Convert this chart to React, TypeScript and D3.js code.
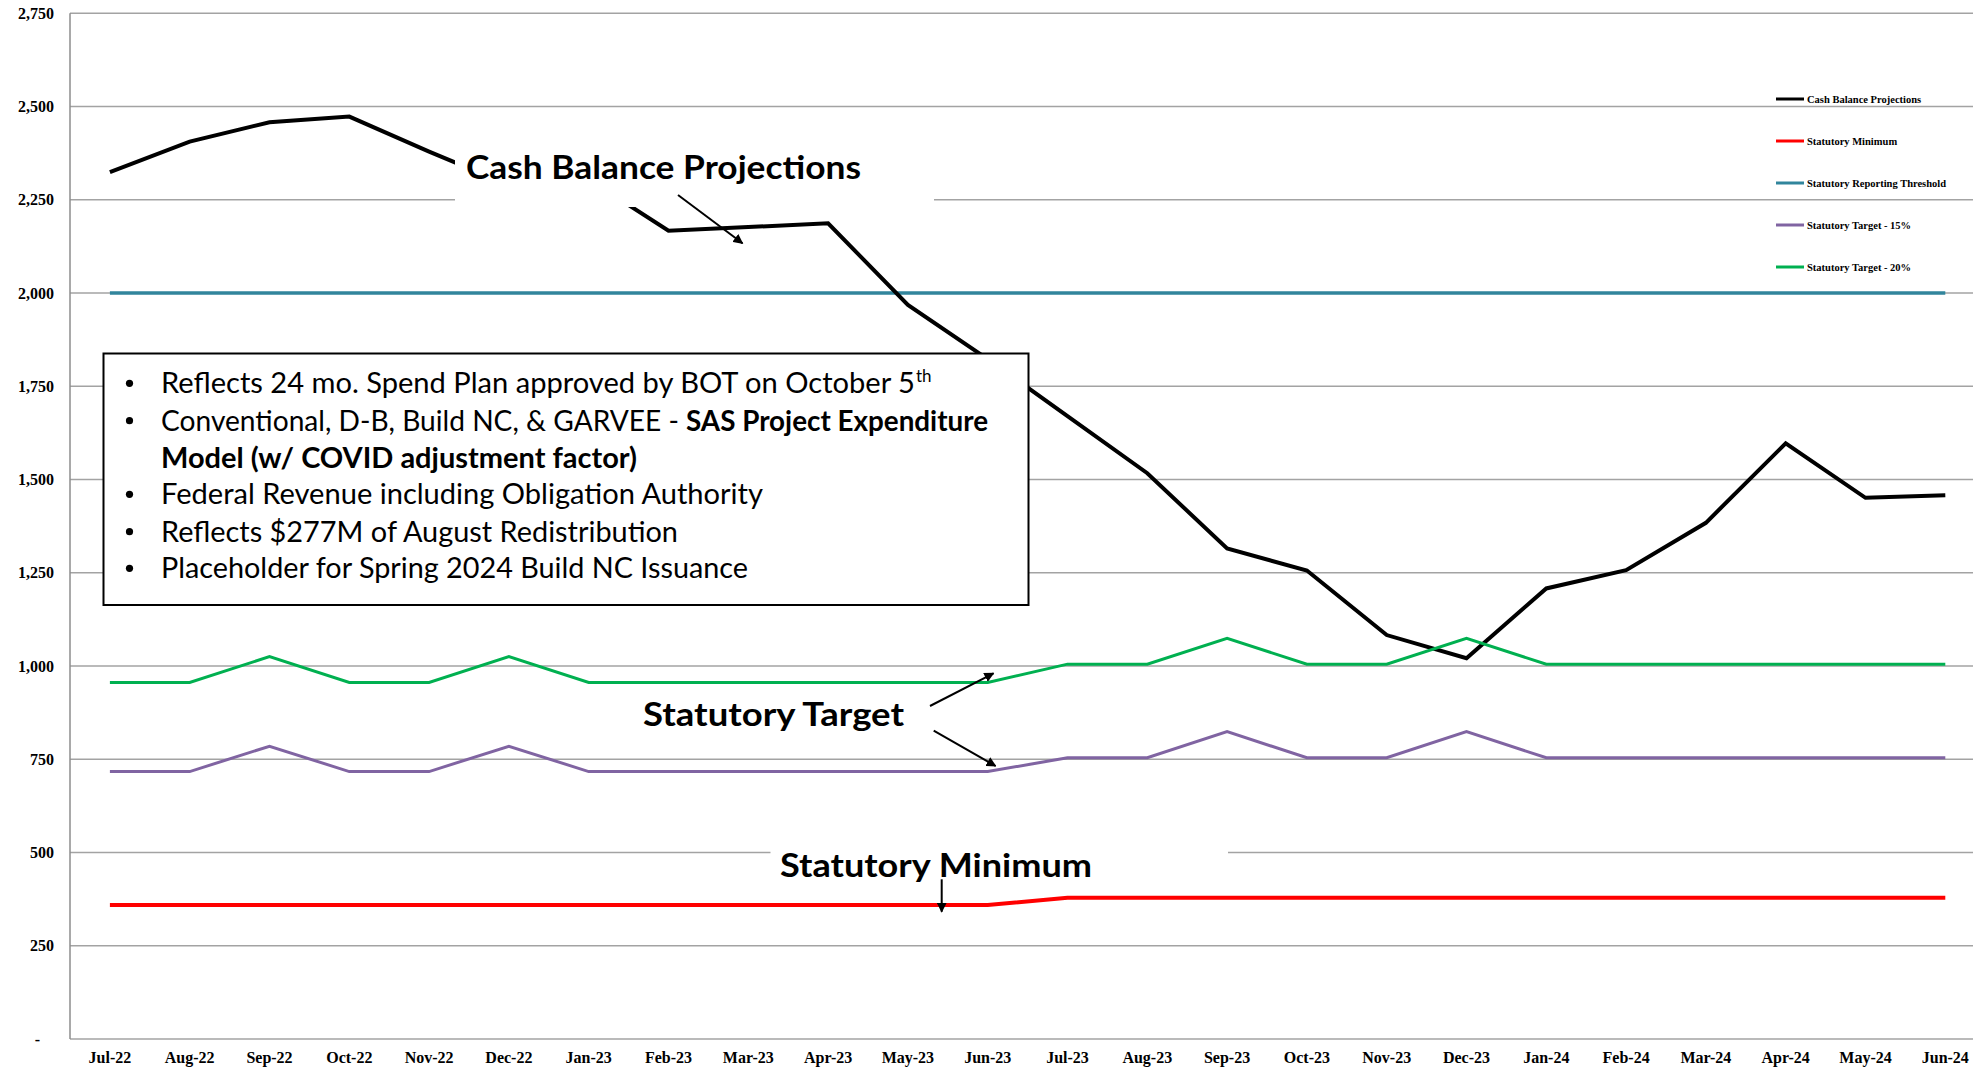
import React from "react";
import * as d3 from "d3";

const months = [
  "Jul-22", "Aug-22", "Sep-22", "Oct-22", "Nov-22", "Dec-22", "Jan-23", "Feb-23",
  "Mar-23", "Apr-23", "May-23", "Jun-23", "Jul-23", "Aug-23", "Sep-23", "Oct-23",
  "Nov-23", "Dec-23", "Jan-24", "Feb-24", "Mar-24", "Apr-24", "May-24", "Jun-24",
];
const cashBalance = [
  2324, 2406, 2458, 2473, 2379, 2290, 2305, 2167, 2177, 2187, 1968, 1823,
  1670, 1517, 1315, 1256, 1083, 1021, 1208, 1257, 1384, 1597, 1451, 1458,
];
const statutoryMinimum = [
  359, 359, 359, 359, 359, 359, 359, 359, 359, 359, 359, 359,
  379, 379, 379, 379, 379, 379, 379, 379, 379, 379, 379, 379,
];
const reportingThreshold = [
  2000, 2000, 2000, 2000, 2000, 2000, 2000, 2000, 2000, 2000, 2000, 2000,
  2000, 2000, 2000, 2000, 2000, 2000, 2000, 2000, 2000, 2000, 2000, 2000,
];
const target15 = [
  717, 717, 785, 717, 717, 785, 717, 717, 717, 717, 717, 717,
  754, 754, 824, 754, 754, 824, 754, 754, 754, 754, 754, 754,
];
const target20 = [
  956, 956, 1025, 956, 956, 1025, 956, 956, 956, 956, 956, 956,
  1005, 1005, 1074, 1005, 1005, 1074, 1005, 1005, 1005, 1005, 1005, 1005,
];
const yTicks = [0, 250, 500, 750, 1000, 1250, 1500, 1750, 2000, 2250, 2500, 2750];

const seriesNames = [
  "Cash Balance Projections",
  "Statutory Minimum",
  "Statutory Reporting Threshold",
  "Statutory Target - 15%",
  "Statutory Target - 20%",
];
const seriesColors = ["#000000", "#FF0000", "#31859C", "#8064A2", "#00B050"];

const bulletLines = [
  "Reflects 24 mo. Spend Plan approved by BOT on October 5",
  "Conventional, D-B, Build NC, & GARVEE - ",
  "SAS Project Expenditure",
  "Model (w/ COVID adjustment factor)",
  "Federal Revenue including Obligation Authority",
  "Reflects $277M of August Redistribution",
  "Placeholder for Spring 2024 Build NC Issuance",
];

const W = 1973;
const H = 1067;

export default function App() {
  const x = d3.scalePoint<string>().domain(months).range([109.9, 1945.3]);
  const y = d3.scaleLinear().domain([0, 2750]).range([1039, 13.3]);
  const fmt = d3.format(",");
  const line = d3
    .line<number>()
    .x((_, i) => x(months[i]) as number)
    .y((d) => y(d));

  const serif = "'Liberation Serif', 'Times New Roman', serif";
  const sans = "Lato, 'Open Sans', sans-serif";
  const gridColor = "#a3a3a3";

  const series = [
    { data: reportingThreshold, color: seriesColors[2], w: 3.5 },
    { data: cashBalance, color: seriesColors[0], w: 4 },
    { data: statutoryMinimum, color: seriesColors[1], w: 4 },
    { data: target15, color: seriesColors[3], w: 3 },
    { data: target20, color: seriesColors[4], w: 3 },
  ];

  const legendY = [99, 141, 183, 225, 267];
  const bulletBase = [393.3, 430.7, 467.7, 504.3, 541.7, 578.3];

  return (
    <svg
      width={W}
      height={H}
      style={{ position: "absolute", left: 0, top: 0, display: "block", background: "#fff" }}
    >
      <defs>
        <marker
          id="arrow"
          viewBox="0 0 10 10"
          refX="9"
          refY="5"
          markerWidth="5"
          markerHeight="5"
          orient="auto-start-reverse"
          markerUnits="strokeWidth"
        >
          <path d="M0,0 L10,5 L0,10 z" fill="#000" />
        </marker>
      </defs>
      <rect x={0} y={0} width={W} height={H} fill="#fff" />

      {/* gridlines */}
      {yTicks.map((t) => (
        <line
          key={"g" + t}
          x1={70}
          x2={W}
          y1={y(t)}
          y2={y(t)}
          stroke={gridColor}
          strokeWidth={1.5}
        />
      ))}
      <line x1={70} x2={70} y1={y(2750)} y2={y(0)} stroke="#8c8c8c" strokeWidth={1.5} />

      {/* y tick labels */}
      {yTicks.map((t) => (
        <text
          key={"yt" + t}
          x={t === 0 ? 40 : 54}
          y={y(t) + 5.5}
          textAnchor="end"
          fontFamily={serif}
          fontWeight="bold"
          fontSize={16}
          fill="#000"
        >
          {t === 0 ? "-" : fmt(t)}
        </text>
      ))}

      {/* x tick labels */}
      {months.map((m) => (
        <text
          key={"xt" + m}
          x={x(m) as number}
          y={1063}
          textAnchor="middle"
          fontFamily={serif}
          fontWeight="bold"
          fontSize={16}
          fill="#000"
        >
          {m}
        </text>
      ))}

      {/* series */}
      {series.map((s, i) => (
        <path
          key={"s" + i}
          d={line(s.data) || ""}
          fill="none"
          stroke={s.color}
          strokeWidth={s.w}
          strokeLinejoin="miter"
        />
      ))}

      {/* legend */}
      {seriesNames.map((n, i) => (
        <g key={"lg" + i}>
          <line
            x1={1776}
            x2={1804}
            y1={legendY[i]}
            y2={legendY[i]}
            stroke={seriesColors[i]}
            strokeWidth={3}
          />
          <text
            x={1807}
            y={legendY[i] + 3.5}
            fontFamily={serif}
            fontWeight="bold"
            fontSize={10.5}
            fill="#000"
          >
            {n}
          </text>
        </g>
      ))}

      {/* Cash Balance Projections label */}
      <rect x={455} y={140} width={479} height={67} fill="#fff" />
      <text
        x={466}
        y={179}
        fontFamily={sans}
        fontWeight="bold"
        fontSize={32}
        textLength={395}
        lengthAdjust="spacingAndGlyphs"
        fill="#000"
      >
        Cash Balance Projections
      </text>
      <line
        x1={678}
        y1={195}
        x2={742.5}
        y2={243.3}
        stroke="#000"
        strokeWidth={2}
        markerEnd="url(#arrow)"
      />

      {/* bullet box */}
      <rect x={103.5} y={353.5} width={925} height={251.5} fill="#fff" stroke="#000" strokeWidth={2} />
      {[0, 1, 3, 4, 5].map((li) => (
        <circle key={"b" + li} cx={129.5} cy={bulletBase[li] - 10} r={3.6} fill="#000" />
      ))}
      <text x={161} y={bulletBase[0]} fontFamily={sans} fontSize={28} textLength={754} lengthAdjust="spacingAndGlyphs" fill="#000">
        {bulletLines[0]}
      </text>
      <text x={916} y={bulletBase[0] - 11} fontFamily={sans} fontSize={17} fill="#000">
        th
      </text>
      <text x={161} y={bulletBase[1]} fontFamily={sans} fontSize={28} textLength={518} lengthAdjust="spacingAndGlyphs" fill="#000">
        {bulletLines[1]}
      </text>
      <text x={686} y={bulletBase[1]} fontFamily={sans} fontWeight="bold" fontSize={28} textLength={302} lengthAdjust="spacingAndGlyphs" fill="#000">
        {bulletLines[2]}
      </text>
      <text x={161} y={bulletBase[2]} fontFamily={sans} fontWeight="bold" fontSize={28} textLength={476} lengthAdjust="spacingAndGlyphs" fill="#000">
        {bulletLines[3]}
      </text>
      <text x={161} y={bulletBase[3]} fontFamily={sans} fontSize={28} textLength={602} lengthAdjust="spacingAndGlyphs" fill="#000">
        {bulletLines[4]}
      </text>
      <text x={161} y={bulletBase[4]} fontFamily={sans} fontSize={28} textLength={517} lengthAdjust="spacingAndGlyphs" fill="#000">
        {bulletLines[5]}
      </text>
      <text x={161} y={bulletBase[5]} fontFamily={sans} fontSize={28} textLength={587} lengthAdjust="spacingAndGlyphs" fill="#000">
        {bulletLines[6]}
      </text>

      {/* Statutory Target label */}
      <text
        x={643}
        y={726}
        fontFamily={sans}
        fontWeight="bold"
        fontSize={32}
        textLength={261}
        lengthAdjust="spacingAndGlyphs"
        fill="#000"
      >
        Statutory Target
      </text>
      <line x1={930} y1={706} x2={993.5} y2={673.3} stroke="#000" strokeWidth={2} markerEnd="url(#arrow)" />
      <line x1={933.7} y1={730.7} x2={995.6} y2={766} stroke="#000" strokeWidth={2} markerEnd="url(#arrow)" />

      {/* Statutory Minimum label */}
      <rect x={770.5} y={843} width={457.5} height={48} fill="#fff" />
      <text
        x={780}
        y={877}
        fontFamily={sans}
        fontWeight="bold"
        fontSize={32}
        textLength={312}
        lengthAdjust="spacingAndGlyphs"
        fill="#000"
      >
        Statutory Minimum
      </text>
      <line x1={941.7} y1={879.3} x2={941.7} y2={911.7} stroke="#000" strokeWidth={2} markerEnd="url(#arrow)" />
    </svg>
  );
}
